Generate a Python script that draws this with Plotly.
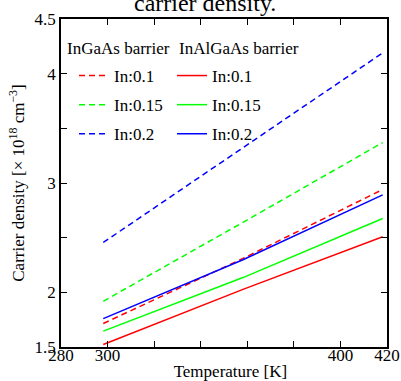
import plotly.graph_objects as go

# Data (temperature in K; carrier density in 1e18 cm^-3)
temperature = [298.15, 358.15, 418.15]
ingaas_01 = [1.715, 2.31, 2.94]
ingaas_015 = [1.918, 2.64, 3.37]
ingaas_02 = [2.456, 3.32, 4.19]
inalgaas_01 = [1.523, 2.027, 2.508]
inalgaas_015 = [1.645, 2.135, 2.675]
inalgaas_02 = [1.760, 2.298, 2.891]

series_names = ["In:0.1", "In:0.15", "In:0.2"]
colors = ["#ff0000", "#00ff00", "#0000ff"]

x_tickvals = [280, 300, 320, 340, 360, 380, 400, 420]
x_ticktext = ["280", "300", "", "", "", "", "400", "420"]
y_tickvals = [1.5, 2, 2.5, 3, 3.5, 4, 4.5]
y_ticktext = ["1.5", "2", "", "3", "", "4", "4.5"]

FONT = "Liberation Serif"

fig = go.Figure()
for i, (name, ys) in enumerate(zip(series_names, [ingaas_01, ingaas_015, ingaas_02])):
    fig.add_trace(go.Scatter(
        x=temperature, y=ys, mode="lines", name=name,
        line=dict(color=colors[i], width=1.5, dash="6px,4px"),
        legend="legend", legendgroup="a%d" % i,
    ))
for i, (name, ys) in enumerate(zip(series_names, [inalgaas_01, inalgaas_015, inalgaas_02])):
    fig.add_trace(go.Scatter(
        x=temperature, y=ys, mode="lines", name=name,
        line=dict(color=colors[i], width=1.5),
        legend="legend2", legendgroup="b%d" % i,
    ))

W, H = 401, 381
L, R, T, B = 61, 14, 19, 34
pw, ph = W - L - R, H - T - B

def px_x(p):
    return (p - L) / pw

def px_y(p):
    return 1 - (p - T) / ph

legend_common = dict(
    font=dict(family=FONT, size=17, color="black"),
    bgcolor="rgba(0,0,0,0)", borderwidth=0,
    xanchor="left", yanchor="top", tracegroupgap=4,
    itemwidth=30,
)

fig.update_layout(
    width=W, height=H,
    margin=dict(l=L, r=R, t=T, b=B, autoexpand=False),
    paper_bgcolor="white", plot_bgcolor="white",
    font=dict(family=FONT, size=17, color="black"),
    showlegend=True,
    legend=dict(x=px_x(74), y=px_y(58), **legend_common),
    legend2=dict(x=px_x(172), y=px_y(58), **legend_common),
    xaxis=dict(
        range=[280, 420], tickmode="array", tickvals=x_tickvals, ticktext=x_ticktext,
        ticks="inside", ticklen=6, tickwidth=1, tickcolor="black",
        showline=True, linecolor="black", linewidth=1.5, mirror="ticks",
        showgrid=False, zeroline=False, automargin=False,
        ticklabelstandoff=-8,
        tickfont=dict(family=FONT, size=17, color="black"),
        title=dict(text="&nbsp;&nbsp;&nbsp;Temperature [K]", font=dict(family=FONT, size=17), standoff=19),
    ),
    yaxis=dict(
        range=[1.5, 4.5], tickmode="array", tickvals=y_tickvals, ticktext=y_ticktext,
        ticks="inside", ticklen=6, tickwidth=1, tickcolor="black",
        showline=True, linecolor="black", linewidth=1.5, mirror="ticks",
        showgrid=False, zeroline=False, automargin=False,
        tickfont=dict(family=FONT, size=17, color="black"),
        title=dict(text="Carrier density [× 10<sup>18</sup> cm<sup>−3</sup>]",
                   font=dict(family=FONT, size=17), standoff=6),
    ),
    annotations=[
        dict(text="carrier density.", xref="paper", yref="paper",
             x=px_x(205), y=px_y(18), xanchor="center", yanchor="bottom",
             showarrow=False, font=dict(family=FONT, size=24, color="black")),
        dict(text="InGaAs barrier", xref="paper", yref="paper",
             x=px_x(65), y=px_y(49), xanchor="left", yanchor="middle",
             showarrow=False, font=dict(family=FONT, size=17, color="black")),
        dict(text="InAlGaAs barrier", xref="paper", yref="paper",
             x=px_x(177), y=px_y(49), xanchor="left", yanchor="middle",
             showarrow=False, font=dict(family=FONT, size=17, color="black")),
    ],
)

fig.write_html("out.html", config={"displayModeBar": False},
               post_script="document.body.style.margin='0';document.body.style.overflow='hidden';")
